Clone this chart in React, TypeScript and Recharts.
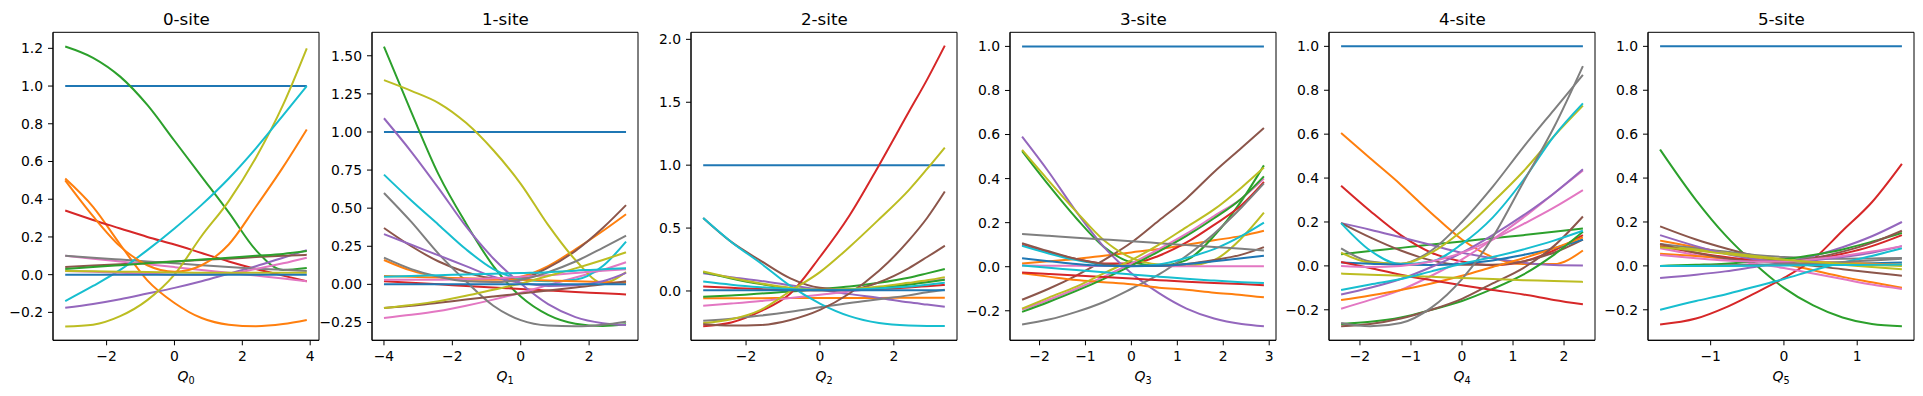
import { LineChart, Line, XAxis, YAxis, ReferenceArea, Label } from "recharts"

// tab10
const PALETTE = ["#1f77b4", "#ff7f0e", "#2ca02c", "#d62728", "#9467bd", "#8c564b", "#e377c2", "#7f7f7f", "#bcbd22", "#17becf"]
const FONT = "DejaVu Sans, sans-serif"

// ---- 0-site ----
const q0X = [-3.22, -2.4, -1.6, -0.8, 0, 0.8, 1.6, 2.4, 3.2, 3.9]
const q0Series = [
  [1, 1, 1, 1, 1, 1, 1, 1, 1, 1],
  [0.51, 0.36, 0.16, -0.03, -0.15, -0.23, -0.265, -0.273, -0.262, -0.24],
  [1.21, 1.15, 1.05, 0.9, 0.71, 0.52, 0.33, 0.13, 0.025, 0.035],
  [0.34, 0.29, 0.245, 0.2, 0.16, 0.115, 0.07, 0.03, -0.005, -0.035],
  [-0.175, -0.155, -0.13, -0.1, -0.07, -0.035, 0.005, 0.045, 0.09, 0.13],
  [0.04, 0.048, 0.055, 0.063, 0.07, 0.078, 0.085, 0.093, 0.1, 0.105],
  [0.1, 0.085, 0.07, 0.055, 0.04, 0.025, 0.01, -0.005, -0.02, -0.035],
  [0.1, 0.09, 0.08, 0.07, 0.06, 0.05, 0.04, 0.032, 0.026, 0.02],
  [-0.275, -0.265, -0.22, -0.135, 0.0, 0.205, 0.39, 0.62, 0.9, 1.2],
  [-0.14, -0.06, 0.025, 0.13, 0.245, 0.37, 0.51, 0.67, 0.845, 1.0],
  [0.5, 0.31, 0.15, 0.05, 0.015, 0.05, 0.16, 0.36, 0.57, 0.77],
  [0.03, 0.04, 0.05, 0.06, 0.07, 0.08, 0.09, 0.1, 0.11, 0.125],
  [0.02, 0.015, 0.01, 0.005, 0.0, 0.0, 0.005, 0.03, 0.06, 0.09],
  [0.02, 0.018, 0.016, 0.014, 0.012, 0.01, 0.01, 0.01, 0.01, 0.01],
  [0, 0, 0, 0, 0, 0, 0, 0, 0, 0],
]
const q0Colors = [0, 1, 2, 3, 4, 5, 6, 7, 8, 9, 1, 2, 6, 8, 0]

// ---- 1-site ----
const q1X = [-4, -3.2, -2.4, -1.6, -0.8, 0, 0.8, 1.6, 2.4, 3.08]
const q1Series = [
  [1, 1, 1, 1, 1, 1, 1, 1, 1, 1],
  [0.16, 0.09, 0.05, 0.03, 0.03, 0.05, 0.12, 0.23, 0.35, 0.46],
  [1.56, 1.13, 0.72, 0.4, 0.12, -0.08, -0.2, -0.258, -0.273, -0.262],
  [0.02, 0.01, 0.0, -0.01, -0.02, -0.03, -0.04, -0.05, -0.058, -0.066],
  [1.09, 0.87, 0.63, 0.38, 0.17, 0.005, -0.13, -0.215, -0.255, -0.267],
  [0.37, 0.25, 0.15, 0.08, 0.04, 0.04, 0.11, 0.22, 0.37, 0.52],
  [-0.22, -0.2, -0.175, -0.14, -0.1, -0.055, -0.005, 0.045, 0.095, 0.145],
  [0.6, 0.41, 0.2, 0.02, -0.14, -0.235, -0.27, -0.275, -0.265, -0.245],
  [1.34, 1.27, 1.19, 1.06, 0.88, 0.66, 0.39, 0.16, 0.01, 0.08],
  [0.72, 0.55, 0.39, 0.23, 0.1, 0.035, 0.02, 0.03, 0.12, 0.28],
  [0.055, 0.05, 0.045, 0.04, 0.035, 0.03, 0.025, 0.02, 0.015, 0.01],
  [0.33, 0.26, 0.19, 0.12, 0.05, 0.01, -0.01, -0.005, 0.02, 0.075],
  [-0.155, -0.14, -0.12, -0.1, -0.08, -0.06, -0.04, -0.02, 0.0, 0.02],
  [0.03, 0.03, 0.03, 0.035, 0.04, 0.05, 0.06, 0.075, 0.09, 0.1],
  [0.175, 0.1, 0.05, 0.02, 0.015, 0.03, 0.08, 0.15, 0.24, 0.32],
  [-0.155, -0.135, -0.11, -0.075, -0.035, 0.005, 0.055, 0.105, 0.16, 0.21],
  [0.05, 0.055, 0.06, 0.065, 0.07, 0.075, 0.08, 0.09, 0.1, 0.105],
  [0, 0, 0, 0, 0, 0, 0, 0, 0, 0],
]
const q1Colors = [0, 1, 2, 3, 4, 5, 6, 7, 8, 9, 1, 4, 5, 6, 7, 8, 9, 0]

// ---- 2-site ----
const q2X = [-3.16, -2.4, -1.6, -0.8, 0, 0.8, 1.6, 2.4, 2.9, 3.38]
const q2Series = [
  [1, 1, 1, 1, 1, 1, 1, 1, 1, 1],
  [-0.058, -0.057, -0.057, -0.056, -0.056, -0.055, -0.055, -0.054, -0.054, -0.053],
  [-0.045, -0.035, -0.02, -0.005, 0.015, 0.035, 0.065, 0.105, 0.14, 0.175],
  [-0.28, -0.25, -0.16, -0.02, 0.27, 0.6, 1.0, 1.42, 1.68, 1.95],
  [0.14, 0.11, 0.08, 0.045, 0.01, -0.025, -0.055, -0.09, -0.108, -0.125],
  [0.58, 0.39, 0.24, 0.1, 0.025, 0.01, 0.07, 0.18, 0.27, 0.36],
  [-0.117, -0.1, -0.08, -0.055, -0.03, -0.005, 0.025, 0.055, 0.075, 0.093],
  [-0.236, -0.22, -0.195, -0.165, -0.13, -0.095, -0.065, -0.035, -0.01, 0.01],
  [-0.255, -0.225, -0.15, 0.0, 0.15, 0.35, 0.57, 0.8, 0.97, 1.14],
  [0.58, 0.39, 0.22, 0.04, -0.1, -0.2, -0.255, -0.275, -0.278, -0.278],
  [0.15, 0.1, 0.055, 0.02, 0.005, 0.01, 0.025, 0.05, 0.07, 0.09],
  [0.035, 0.025, 0.015, 0.008, 0.005, 0.008, 0.015, 0.028, 0.038, 0.048],
  [-0.265, -0.275, -0.27, -0.23, -0.15, -0.02, 0.16, 0.4, 0.58, 0.79],
  [0.155, 0.105, 0.06, 0.025, 0.01, 0.015, 0.035, 0.065, 0.085, 0.11],
  [0.075, 0.05, 0.03, 0.015, 0.008, 0.01, 0.02, 0.035, 0.05, 0.066],
  [0.005, 0.005, 0.005, 0.005, 0.005, 0.005, 0.005, 0.005, 0.005, 0.005],
]
const q2Colors = [0, 1, 2, 3, 4, 5, 6, 7, 8, 9, 2, 3, 5, 8, 9, 0]

// ---- 3-site ----
const q3X = [-2.38, -1.8, -1.2, -0.6, 0, 0.6, 1.2, 1.8, 2.4, 2.885]
const q3Series = [
  [1, 1, 1, 1, 1, 1, 1, 1, 1, 1],
  [0.015, 0.025, 0.035, 0.05, 0.065, 0.08, 0.1, 0.12, 0.14, 0.163],
  [0.525, 0.37, 0.22, 0.09, 0.02, 0.005, 0.03, 0.14, 0.3, 0.46],
  [0.1, 0.065, 0.035, 0.015, 0.015, 0.05, 0.11, 0.19, 0.28, 0.385],
  [0.59, 0.43, 0.25, 0.09, -0.03, -0.12, -0.19, -0.235, -0.26, -0.27],
  [-0.15, -0.1, -0.04, 0.03, 0.11, 0.21, 0.31, 0.43, 0.54, 0.63],
  [-0.195, -0.15, -0.1, -0.045, 0.015, 0.08, 0.15, 0.23, 0.31, 0.4],
  [-0.262, -0.24, -0.205, -0.16, -0.1, -0.035, 0.05, 0.15, 0.27, 0.378],
  [0.53, 0.39, 0.25, 0.12, 0.04, 0.01, 0.005, 0.03, 0.13, 0.245],
  [0.095, 0.06, 0.03, 0.01, 0.003, 0.01, 0.04, 0.08, 0.14, 0.2],
  [-0.03, -0.045, -0.06, -0.07, -0.08, -0.095, -0.105, -0.118, -0.128, -0.139],
  [-0.205, -0.16, -0.11, -0.055, 0.005, 0.07, 0.14, 0.22, 0.31, 0.41],
  [-0.026, -0.033, -0.04, -0.047, -0.054, -0.061, -0.068, -0.074, -0.079, -0.084],
  [0.005, 0.004, 0.004, 0.003, 0.003, 0.003, 0.002, 0.002, 0.002, 0.002],
  [0.107, 0.07, 0.035, 0.012, 0.003, 0.003, 0.012, 0.03, 0.055, 0.089],
  [0.148, 0.14, 0.132, 0.124, 0.116, 0.107, 0.098, 0.09, 0.081, 0.074],
  [-0.19, -0.14, -0.09, -0.03, 0.03, 0.1, 0.18, 0.26, 0.36, 0.45],
  [0.005, -0.005, -0.015, -0.025, -0.035, -0.045, -0.055, -0.063, -0.07, -0.074],
  [0.038, 0.025, 0.012, 0.004, 0.002, 0.004, 0.012, 0.025, 0.038, 0.05],
]
const q3Colors = [0, 1, 2, 3, 4, 5, 6, 7, 8, 9, 1, 2, 3, 6, 5, 7, 8, 9, 0]

// ---- 4-site ----
const q4X = [-2.37, -1.8, -1.2, -0.6, 0, 0.6, 1.2, 1.8, 2.37]
const q4Series = [
  [1, 1, 1, 1, 1, 1, 1, 1, 1],
  [0.605, 0.49, 0.37, 0.24, 0.12, 0.04, 0.008, 0.008, 0.07],
  [0.053, 0.068, 0.082, 0.097, 0.111, 0.126, 0.14, 0.155, 0.17],
  [0.365, 0.25, 0.14, 0.06, 0.02, 0.003, 0.02, 0.07, 0.14],
  [0.195, 0.165, 0.13, 0.095, 0.06, 0.035, 0.015, 0.004, 0.002],
  [0.195, 0.13, 0.07, 0.025, 0.005, 0.005, 0.02, 0.06, 0.12],
  [-0.195, -0.155, -0.11, -0.045, 0.03, 0.12, 0.22, 0.33, 0.435],
  [0.08, 0.02, 0.01, 0.07, 0.2, 0.36, 0.54, 0.71, 0.87],
  [0.06, 0.015, 0.01, 0.06, 0.16, 0.29, 0.43, 0.59, 0.73],
  [0.195, 0.07, 0.008, 0.02, 0.1, 0.22, 0.39, 0.59, 0.74],
  [0.015, 0.01, 0.005, 0.004, 0.01, 0.025, 0.05, 0.08, 0.12],
  [-0.156, -0.135, -0.11, -0.08, -0.045, -0.005, 0.035, 0.08, 0.13],
  [-0.265, -0.255, -0.235, -0.2, -0.16, -0.105, -0.04, 0.05, 0.155],
  [0.018, -0.01, -0.04, -0.065, -0.088, -0.11, -0.13, -0.155, -0.175],
  [-0.13, -0.1, -0.06, -0.005, 0.06, 0.14, 0.23, 0.33, 0.44],
  [-0.275, -0.265, -0.24, -0.2, -0.15, -0.08, -0.01, 0.09, 0.225],
  [0.0, -0.005, 0.0, 0.02, 0.06, 0.12, 0.19, 0.265, 0.345],
  [-0.26, -0.275, -0.26, -0.19, -0.06, 0.13, 0.38, 0.63, 0.91],
  [-0.035, -0.04, -0.045, -0.05, -0.055, -0.06, -0.065, -0.069, -0.073],
  [-0.11, -0.085, -0.06, -0.025, 0.01, 0.04, 0.075, 0.115, 0.16],
]
const q4Colors = [0, 1, 2, 3, 4, 5, 6, 7, 8, 9, 0, 1, 2, 3, 4, 5, 6, 7, 8, 9]

// ---- 5-site ----
const q5X = [-1.69, -1.2, -0.8, -0.4, 0, 0.4, 0.8, 1.2, 1.61]
const q5Series = [
  [1, 1, 1, 1, 1, 1, 1, 1, 1],
  [0.115, 0.085, 0.06, 0.035, 0.01, -0.02, -0.05, -0.075, -0.1],
  [0.53, 0.3, 0.14, 0.01, -0.1, -0.18, -0.235, -0.265, -0.275],
  [-0.267, -0.24, -0.19, -0.125, -0.055, 0.03, 0.16, 0.29, 0.465],
  [-0.055, -0.04, -0.025, -0.005, 0.015, 0.045, 0.085, 0.135, 0.2],
  [0.18, 0.12, 0.08, 0.045, 0.02, 0.0, -0.015, -0.03, -0.045],
  [0.08, 0.05, 0.03, 0.01, -0.01, -0.035, -0.06, -0.085, -0.105],
  [0.1, 0.08, 0.065, 0.05, 0.04, 0.035, 0.033, 0.034, 0.036],
  [0.09, 0.075, 0.06, 0.045, 0.03, 0.015, 0.005, -0.005, -0.015],
  [-0.2, -0.16, -0.13, -0.095, -0.06, -0.02, 0.015, 0.045, 0.08],
  [0.0, 0.0, 0.002, 0.004, 0.006, 0.008, 0.01, 0.012, 0.015],
  [0.055, 0.045, 0.035, 0.028, 0.022, 0.018, 0.014, 0.01, 0.006],
  [0.0, 0.005, 0.01, 0.02, 0.03, 0.05, 0.075, 0.11, 0.15],
  [0.09, 0.06, 0.04, 0.025, 0.02, 0.03, 0.055, 0.09, 0.14],
  [0.14, 0.09, 0.055, 0.03, 0.02, 0.025, 0.04, 0.06, 0.09],
  [0.1, 0.06, 0.035, 0.02, 0.02, 0.035, 0.065, 0.105, 0.16],
  [0.05, 0.035, 0.025, 0.02, 0.02, 0.03, 0.045, 0.065, 0.09],
  [0.0, 0.0, 0.002, 0.004, 0.008, 0.012, 0.018, 0.025, 0.032],
  [0.085, 0.07, 0.055, 0.04, 0.028, 0.018, 0.01, 0.004, 0.0],
  [0.0, 0.0, 0.0, 0.001, 0.002, 0.003, 0.004, 0.005, 0.006],
]
const q5Colors = [0, 1, 2, 3, 4, 5, 6, 7, 8, 9, 0, 1, 2, 3, 4, 5, 6, 7, 8, 9]

const panels = [
  { title: "0-site", sub: "0", xs: q0X, series: q0Series, colors: q0Colors, xDomain: [-3.58, 4.26], yDomain: [-0.348, 1.285], xTicks: [-2, 0, 2, 4], yTicks: [-0.2, 0, 0.2, 0.4, 0.6, 0.8, 1.0, 1.2], digits: 1 },
  { title: "1-site", sub: "1", xs: q1X, series: q1Series, colors: q1Colors, xDomain: [-4.35, 3.43], yDomain: [-0.367, 1.654], xTicks: [-4, -2, 0, 2], yTicks: [-0.25, 0, 0.25, 0.5, 0.75, 1.0, 1.25, 1.5], digits: 2 },
  { title: "2-site", sub: "2", xs: q2X, series: q2Series, colors: q2Colors, xDomain: [-3.49, 3.71], yDomain: [-0.392, 2.056], xTicks: [-2, 0, 2], yTicks: [0, 0.5, 1.0, 1.5, 2.0], digits: 1 },
  { title: "3-site", sub: "3", xs: q3X, series: q3Series, colors: q3Colors, xDomain: [-2.643, 3.148], yDomain: [-0.334, 1.064], xTicks: [-2, -1, 0, 1, 2, 3], yTicks: [-0.2, 0, 0.2, 0.4, 0.6, 0.8, 1.0], digits: 1 },
  { title: "4-site", sub: "4", xs: q4X, series: q4Series, colors: q4Colors, xDomain: [-2.607, 2.607], yDomain: [-0.339, 1.064], xTicks: [-2, -1, 0, 1, 2], yTicks: [-0.2, 0, 0.2, 0.4, 0.6, 0.8, 1.0], digits: 1 },
  { title: "5-site", sub: "5", xs: q5X, series: q5Series, colors: q5Colors, xDomain: [-1.855, 1.775], yDomain: [-0.339, 1.064], xTicks: [-1, 0, 1], yTicks: [-0.2, 0, 0.2, 0.4, 0.6, 0.8, 1.0], digits: 1 },
]

const W = 1923
const H = 396
const BOX_LEFT0 = 53.3
const BOX_STEP = 319
const BOX_W = 266
const BOX_TOP = 32.3
const BOX_H = 308
const Y_AXIS_W = 60
const X_AXIS_H = 40
const RIGHT_PAD = 6

const minus = (s: string) => s.replace("-", "\u2212")

function rowsFor(xs: number[], series: number[][]) {
  return xs.map((x, i) => {
    const r: any = { x }
    series.forEach((s, j) => { r["c" + j] = s[i] })
    return r
  })
}

const tickStyle = { fontSize: 13.9, fill: "#000", fontFamily: FONT }

function Panel({ p, i }: { p: any; i: number }) {
  const boxLeft = BOX_LEFT0 + BOX_STEP * i
  const rows = rowsFor(p.xs, p.series)
  return (
    <div style={{ position: "absolute", left: boxLeft - Y_AXIS_W, top: 0 }}>
      <LineChart
        width={Y_AXIS_W + BOX_W + RIGHT_PAD}
        height={H}
        data={rows}
        margin={{ top: BOX_TOP, right: RIGHT_PAD, left: 0, bottom: H - BOX_TOP - BOX_H - X_AXIS_H }}
      >
        <XAxis
          type="number" dataKey="x" domain={p.xDomain} allowDataOverflow ticks={p.xTicks} interval={0}
          height={X_AXIS_H} tickSize={5} tickMargin={6} tick={tickStyle}
          axisLine={{ stroke: "#000", strokeWidth: 1 }} tickLine={{ stroke: "#000", strokeWidth: 1 }}
          tickFormatter={(v: number) => minus(String(v))}
        >
          <Label
            content={(lp: any) => {
              const vb = lp.viewBox || {}
              return (
                <text x={vb.x + vb.width / 2} y={vb.y + 41} textAnchor="middle" fontFamily={FONT} fontSize={13.9} fill="#000">
                  <tspan fontStyle="italic">Q</tspan>
                  <tspan fontSize={9.7} dy={2.5}>{p.sub}</tspan>
                </text>
              )
            }}
          />
        </XAxis>
        <YAxis
          type="number" domain={p.yDomain} allowDataOverflow ticks={p.yTicks} interval={0}
          width={Y_AXIS_W} tickSize={5} tickMargin={5} tick={tickStyle}
          axisLine={{ stroke: "#000", strokeWidth: 1 }} tickLine={{ stroke: "#000", strokeWidth: 1 }}
          tickFormatter={(v: number) => minus(v.toFixed(p.digits))}
        />
        {p.series.map((_: number[], j: number) => (
          <Line
            key={j}
            dataKey={"c" + j}
            type="monotone"
            stroke={PALETTE[p.colors[j]]}
            strokeWidth={2}
            dot={false}
            activeDot={false}
            isAnimationActive={false}
          />
        ))}
        <ReferenceArea
          x1={p.xDomain[0]} x2={p.xDomain[1]} y1={p.yDomain[0]} y2={p.yDomain[1]}
          fill="none" fillOpacity={0} stroke="#000" strokeWidth={1} strokeOpacity={1} ifOverflow="visible"
        />
      </LineChart>
    </div>
  )
}

export default function App() {
  return (
    <div style={{ position: "absolute", left: 0, top: 0, width: W, height: H, background: "#fff", overflow: "hidden" }}>
      {panels.map((p, i) => <Panel key={p.title} p={p} i={i} />)}
      <svg width={W} height={H} style={{ position: "absolute", left: 0, top: 0, pointerEvents: "none" }}>
        {panels.map((p, i) => (
          <text key={p.title} x={BOX_LEFT0 + BOX_STEP * i + BOX_W / 2} y={24.5} textAnchor="middle"
            fontFamily={FONT} fontSize={16.7} fill="#000">
            {p.title}
          </text>
        ))}
      </svg>
    </div>
  )
}
